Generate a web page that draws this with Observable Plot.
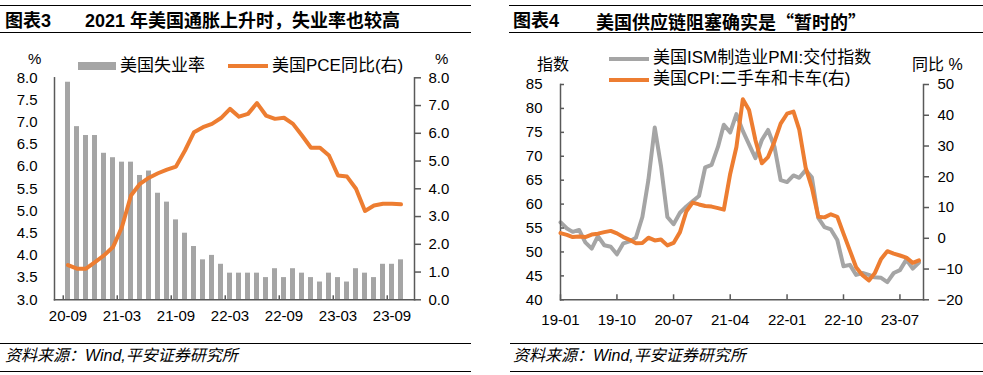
<!DOCTYPE html>
<html><head><meta charset="utf-8">
<script src="https://cdn.jsdelivr.net/npm/d3@7"></script>
<script src="https://cdn.jsdelivr.net/npm/@observablehq/plot@0.6"></script>
<style>
body{margin:0;width:983px;height:375px;position:relative;background:#fff;overflow:hidden;
 font-family:"Liberation Sans","Noto Sans CJK SC",sans-serif;color:#000}
.t{position:absolute;white-space:nowrap;line-height:20px;height:20px}
.rule{position:absolute;height:0;border-top:1.5px solid #000}
.sw{position:absolute}
.title{font-size:18px;font-weight:700}
.leg{font-size:17px}
.foot{font-size:16px;font-style:italic}
.chart{position:absolute}
</style></head><body>
<div class="rule" style="left:0;width:471px;top:5px"></div>
<div class="rule" style="left:0;width:471px;top:32px"></div>
<div class="rule" style="left:509px;width:474px;top:5px"></div>
<div class="rule" style="left:509px;width:474px;top:32px"></div>
<div class="t title" style="left:5px;top:11px">图表3</div>
<div class="t title" style="left:85px;top:11px">2021 年美国通胀上升时，失业率也较高</div>
<div class="t title" style="left:513px;top:11px">图表4</div>
<div class="t title" style="left:596px;top:11px;font-family:'Noto Sans CJK SC',sans-serif">美国供应链阻塞确实是“暂时的”</div>

<div id="c3" class="chart" style="left:0;top:40px"></div>
<div id="c3b" class="chart" style="left:0;top:40px"></div>
<div id="c4" class="chart" style="left:500px;top:40px"></div>
<div id="c4b" class="chart" style="left:500px;top:40px"></div>

<div class="t" style="left:28px;top:49px;font-size:15px">%</div>
<div class="t" style="left:435px;top:49px;font-size:15px">%</div>
<div class="sw" style="left:78px;top:61.5px;width:38px;height:8.5px;background:#a5a5a5"></div>
<div class="t leg" style="left:120px;top:55.5px">美国失业率</div>
<div class="sw" style="left:228px;top:63.5px;width:40px;height:4px;background:#ed7d31"></div>
<div class="t leg" style="left:272px;top:55.5px">美国PCE同比(右)</div>

<div class="t" style="left:537px;top:55px;font-size:16px">指数</div>
<div class="t" style="left:912px;top:55px;font-size:16px">同比 %</div>
<div class="sw" style="left:609px;top:56.5px;width:40px;height:4px;background:#a5a5a5"></div>
<div class="t leg" style="left:653px;top:47.7px">美国ISM制造业PMI:交付指数</div>
<div class="sw" style="left:609px;top:78px;width:40px;height:4px;background:#ed7d31"></div>
<div class="t leg" style="left:653px;top:69.3px">美国CPI:二手车和卡车(右)</div>

<div class="rule" style="left:0;width:471px;top:343px"></div>
<div class="rule" style="left:0;width:471px;top:371px"></div>
<div class="rule" style="left:510px;width:473px;top:343px"></div>
<div class="rule" style="left:510px;width:473px;top:371px"></div>
<div class="t foot" style="left:5px;top:346px">资料来源：Wind,平安证券研究所</div>
<div class="t foot" style="left:513px;top:346px">资料来源：Wind,平安证券研究所</div>

<script>
// ---------- Chart 3 data ----------
const months3 = ["20-09","20-10","20-11","20-12","21-01","21-02","21-03","21-04","21-05","21-06","21-07","21-08",
 "21-09","21-10","21-11","21-12","22-01","22-02","22-03","22-04","22-05","22-06","22-07","22-08",
 "22-09","22-10","22-11","22-12","23-01","23-02","23-03","23-04","23-05","23-06","23-07","23-08","23-09","23-10"];
const unemployment = [7.9,6.9,6.7,6.7,6.3,6.2,6.1,6.1,5.8,5.9,5.4,5.2,4.8,4.5,4.2,3.9,4.0,3.8,3.6,3.6,3.6,3.6,3.5,3.7,
 3.5,3.7,3.6,3.5,3.4,3.6,3.5,3.4,3.7,3.6,3.5,3.8,3.8,3.9];
const pceYoY = [1.25,1.12,1.12,1.36,1.6,1.9,2.63,3.76,4.18,4.4,4.56,4.69,4.8,5.38,6.04,6.22,6.34,6.55,6.88,6.6,
 6.7,7.09,6.64,6.52,6.56,6.34,5.92,5.48,5.48,5.2,4.48,4.44,4.0,3.2,3.4,3.46,3.46,3.44];
const xTicks3 = ["20-09","21-03","21-09","22-03","22-09","23-03","23-09"];
const yTicks3L = [3.0,3.5,4.0,4.5,5.0,5.5,6.0,6.5,7.0,7.5,8.0];
const yTicks3R = [0,1,2,3,4,5,6,7,8];

// ---------- Chart 4 data ----------
const ismDeliveries = [56.2,54.9,54.2,54.6,52.0,50.7,53.3,51.4,51.1,49.5,51.8,52.2,
 53.0,57.3,65.0,76.0,68.0,57.3,55.8,58.2,59.5,60.6,61.7,67.7,
 68.2,72.0,76.6,75.0,78.8,75.3,72.5,69.6,73.4,75.5,72.0,65.0,
 64.6,66.0,65.5,67.1,65.6,57.1,55.2,54.7,52.5,47.0,47.3,45.2,
 45.6,45.2,44.7,44.6,43.7,45.6,46.2,48.4,46.5,47.8];
const usedCarCPI = [1.7,1.1,0.4,0.6,0.4,1.2,1.5,2.0,2.4,1.6,0.4,-0.5,
 -1.6,-1.5,0.2,-0.7,-0.4,-2.3,-1.5,2.0,8.8,11.6,11.0,10.5,
 10.3,9.8,9.3,21.0,29.7,45.2,41.7,31.9,24.4,26.4,31.4,37.3,
 40.5,41.2,35.3,23.0,16.5,7.0,6.8,7.8,7.0,1.5,-4.0,-9.4,
 -12.0,-13.7,-11.4,-6.7,-4.2,-5.0,-5.6,-6.3,-8.0,-7.2];
const start4 = "2019-01", end4 = "2023-10";
const xTicks4 = ["19-01","19-10","20-07","21-04","22-01","22-10","23-07"];
const yTicks4L = [40,45,50,55,60,65,70,75,80,85];
const yTicks4R = [-20,-10,0,10,20,30,40,50];

const FONT = '"Liberation Sans","Noto Sans CJK SC",sans-serif';
const GRAY = "#a5a5a5", ORANGE = "#ed7d31", AXIS = "#595959";
const style = {background:"transparent", fontFamily:FONT, fontSize:"15px", color:"#000", overflow:"visible"};
const blank = () => "";

// ---------- Chart 3 ----------
const data3 = months3.map((m,i)=>({m, u:unemployment[i], p:pceYoY[i]}));
const dims3 = {width:470, height:290, marginLeft:54, marginRight:56, marginTop:37.3, marginBottom:30.7};
const x3 = {type:"band", domain:months3, paddingInner:0.44, paddingOuter:0.22, label:null};
const step3 = (470-54-56)/months3.length;
const c3 = Plot.plot({
  ...dims3, style, x:x3, y:{domain:[3,8], label:null},
  marks:[
    Plot.barY(data3, {x:"m", y1:3, y2:"u", fill:GRAY}),
    Plot.axisY(yTicks3L, {anchor:"left", tickSize:0, tickPadding:17, tickFormat:d=>d.toFixed(1)}),
    Plot.axisX(xTicks3, {anchor:"bottom", tickSize:0, tickPadding:11}),
    Plot.axisX(xTicks3, {anchor:"bottom", tickSize:4, tickFormat:blank, dx:-step3/2, dy:-4, stroke:AXIS, strokeWidth:1.5}),
    Plot.frame({anchor:"left", stroke:AXIS, strokeWidth:1.5}),
    Plot.frame({anchor:"bottom", stroke:AXIS, strokeWidth:1.5})
  ]
});
document.getElementById("c3").appendChild(c3);
const c3b = Plot.plot({
  ...dims3, style, x:{...x3, axis:null}, y:{domain:[0,8], label:null},
  marks:[
    Plot.line(data3, {x:"m", y:"p", stroke:ORANGE, strokeWidth:4}),
    Plot.axisY(yTicks3R, {anchor:"right", tickSize:6, tickPadding:8, stroke:AXIS, strokeWidth:1.5, tickFormat:d=>d.toFixed(1)}),
    Plot.frame({anchor:"right", stroke:AXIS, strokeWidth:1.5})
  ]
});
document.getElementById("c3b").appendChild(c3b);

// ---------- Chart 4 ----------
const parseM = d3.utcParse("%Y-%m");
const months4 = d3.utcMonths(parseM(start4), d3.utcMonth.offset(parseM(end4), 1));
const data4 = months4.map((d,i)=>({d, ism:ismDeliveries[i], car:usedCarCPI[i]}));
const parseT = d3.utcParse("%y-%m");
const ticks4 = xTicks4.map(parseT);
const dims4 = {width:483, height:295, marginLeft:60, marginRight:60, marginTop:44, marginBottom:35.7};
const x4 = {type:"utc", domain:[parseM(start4), new Date(Date.UTC(2023,9,23))], label:null};
const c4 = Plot.plot({
  ...dims4, style, x:x4, y:{domain:[40,85], label:null},
  marks:[
    Plot.line(data4, {x:"d", y:"ism", stroke:GRAY, strokeWidth:4}),
    Plot.axisY(yTicks4L, {anchor:"left", tickSize:0, tickPadding:18}),
    Plot.axisY(yTicks4L, {anchor:"left", tickSize:4, dx:4, tickFormat:blank, stroke:AXIS, strokeWidth:1.5}),
    Plot.axisX(ticks4, {anchor:"bottom", tickSize:0, tickPadding:15, tickFormat:d3.utcFormat("%y-%m")}),
    Plot.axisX(ticks4, {anchor:"bottom", tickSize:5, dy:-5, tickFormat:blank, stroke:AXIS, strokeWidth:1.5}),
    Plot.frame({anchor:"left", stroke:AXIS, strokeWidth:1.5}),
    Plot.frame({anchor:"bottom", stroke:AXIS, strokeWidth:1.5})
  ]
});
document.getElementById("c4").appendChild(c4);
const c4b = Plot.plot({
  ...dims4, style, x:{...x4, axis:null}, y:{domain:[-20,50], label:null},
  marks:[
    Plot.line(data4, {x:"d", y:"car", stroke:ORANGE, strokeWidth:4}),
    Plot.axisY(yTicks4R, {anchor:"right", tickSize:5, tickPadding:9, stroke:AXIS, strokeWidth:1.5}),
    Plot.frame({anchor:"right", stroke:AXIS, strokeWidth:1.5})
  ]
});
document.getElementById("c4b").appendChild(c4b);
</script>
</body></html>
